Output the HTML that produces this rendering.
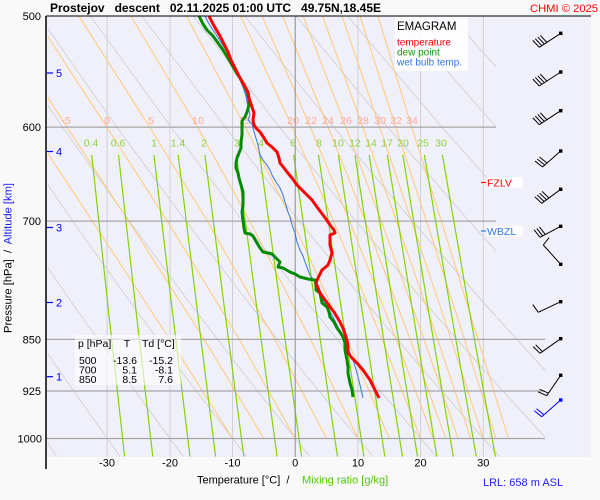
<!DOCTYPE html>
<html><head><meta charset="utf-8"><style>
html,body{margin:0;padding:0;background:#f9f9f9;}
svg{display:block;font-family:"Liberation Sans",Arial,sans-serif;}
</style></head><body>
<svg width="600" height="500" viewBox="0 0 600 500" xmlns="http://www.w3.org/2000/svg">
<rect x="0" y="0" width="600" height="500" fill="#f9f9f9"/>
<rect x="46" y="16" width="545" height="441" fill="#f0f0fa"/>
<defs><clipPath id="c"><polygon points="48,16 496,16 496,317 545,317 545,457 48,457"/></clipPath>
<clipPath id="cm"><polygon points="47,154 496,154 496,317 545,317 545,457 47,457"/></clipPath></defs>
<g clip-path="url(#c)" fill="none" stroke-width="1">
<g stroke="#d0d0d0">
<line x1="107.1" y1="16" x2="107.1" y2="457"/><line x1="170" y1="16" x2="170" y2="457"/><line x1="232.5" y1="16" x2="232.5" y2="457"/><line x1="357.9" y1="16" x2="357.9" y2="457"/><line x1="420.6" y1="16" x2="420.6" y2="457"/><line x1="483.3" y1="16" x2="483.3" y2="457"/>
</g>
<g stroke="#d4d4d4">
<polyline points="-45.9,302.5 1.1,374.3 56.8,456.6"/>
<polyline points="-40.6,221.1 12.9,302.5 61.9,374.3 120,456.6"/>
<polyline points="-45.8,127.1 16,221.1 71.7,302.5 122.7,374.3 183.3,456.6"/>
<polyline points="-64,16 8.5,127.1 72.7,221.1 130.6,302.5 183.6,374.3 246.5,456.6"/>
<polyline points="-12.5,16 62.6,127.1 129.3,221.1 189.4,302.5 244.4,374.3 309.7,456.6"/>
<polyline points="38.9,16 116.8,127.1 185.9,221.1 248.2,302.5 305.2,374.3 372.9,456.6"/>
<polyline points="90.4,16 171,127.1 242.5,221.1 307.1,302.5 366.1,374.3 436.2,456.6"/>
<polyline points="141.8,16 225.2,127.1 299.2,221.1 365.9,302.5 426.9,374.3 499.4,456.6"/>
<polyline points="193.2,16 279.4,127.1 355.8,221.1 424.7,302.5 487.8,374.3 562.7,456.6"/>
<polyline points="244.7,16 333.6,127.1 412.4,221.1 483.5,302.5 548.6,374.3"/>
<polyline points="296.1,16 387.7,127.1 469,221.1 542.4,302.5"/>
<polyline points="347.6,16 441.9,127.1 525.7,221.1"/>
<polyline points="399,16 496.1,127.1 582.3,221.1"/>
<polyline points="450.4,16 550.3,127.1"/>
<polyline points="501.9,16 604.5,127.1"/>
</g>
<g stroke="#ffc878">
<polyline points="232.5,438.5 169.8,339.4 92.4,221.1 62.6,175.9 30.6,127.1"/>
<polyline points="263.8,438.5 204.3,339.4 128.7,221.1 67,127.1 -5.1,16"/>
<polyline points="295.2,438.5 239.4,339.4 167.3,221.1 106.8,127.1 34.4,16"/>
<polyline points="326.6,438.5 274.8,339.4 207.4,221.1 149.7,127.1 78.9,16"/>
<polyline points="357.9,438.5 310.5,339.4 249.8,221.1 197.5,127.1 130.8,16"/>
<polyline points="389.3,438.5 347,339.4 292.5,221.1 245.5,127.1 186.5,16"/>
<polyline points="420.6,438.5 382.1,339.4 333.6,221.1 292.2,127.1 240.7,16"/>
<polyline points="433.1,438.5 396.2,339.4 349.6,221.1 310.4,127.1 262.1,16"/>
<polyline points="445.7,438.5 410.2,339.4 365.4,221.1 328.2,127.1 282.6,16"/>
<polyline points="458.2,438.5 424.1,339.4 381.2,221.1 345.9,127.1 303.1,16"/>
<polyline points="470.8,438.5 437.6,339.4 396.5,221.1 362.8,127.1 322.5,16"/>
<polyline points="483.3,438.5 451.1,339.4 411.6,221.1 379.7,127.1 342,16"/>
<polyline points="495.8,438.5 464.5,339.4 426.5,221.1 395.7,127.1 360,16"/>
<polyline points="508.4,438.5 478,339.4 441.4,221.1 411.7,127.1 378,16"/>
</g>
</g>
<g clip-path="url(#cm)" fill="none" stroke="#84d208" stroke-width="1.2">
<polyline points="91.7,154.9 107.6,302.5 124.6,456.6"/>
<polyline points="118.5,154.9 135.1,302.5 152.8,456.6"/>
<polyline points="153.9,154.9 171.3,302.5 190,456.6"/>
<polyline points="178.2,154.9 196.3,302.5 215.6,456.6"/>
<polyline points="204.9,154.9 223.7,302.5 243.8,456.6"/>
<polyline points="236.5,154.9 256.1,302.5 277.1,456.6"/>
<polyline points="259.7,154.9 279.9,302.5 301.6,456.6"/>
<polyline points="293.6,154.9 314.8,302.5 337.5,456.6"/>
<polyline points="318.5,154.9 340.4,302.5 363.9,456.6"/>
<polyline points="338.4,154.9 360.8,302.5 384.9,456.6"/>
<polyline points="354.9,154.9 377.8,302.5 402.5,456.6"/>
<polyline points="369.1,154.9 392.5,302.5 417.5,456.6"/>
<polyline points="387.3,154.9 411.2,302.5 436.9,456.6"/>
<polyline points="402.8,154.9 427.1,302.5 453.3,456.6"/>
<polyline points="424.4,154.9 449.4,302.5 476.3,456.6"/>
<polyline points="442.4,154.9 467.9,302.5 495.4,456.6"/>
</g>
<line x1="295.2" y1="16" x2="295.2" y2="457" stroke="#8c8c8c" stroke-width="1"/>
<g stroke="#a6a6a6" stroke-width="1.3">
<line x1="46" y1="127.1" x2="496" y2="127.1"/>
<line x1="46" y1="221.1" x2="496" y2="221.1"/>
<line x1="46" y1="339.4" x2="545" y2="339.4"/>
<line x1="46" y1="391" x2="545" y2="391"/>
<line x1="46" y1="438.5" x2="545" y2="438.5"/>
</g>
<g font-size="10.5" fill="#ffa892" text-anchor="middle">
<text x="66" y="124">-5</text><text x="107" y="124">0</text><text x="151" y="124">5</text><text x="198" y="124">10</text><text x="245" y="124">15</text>
<text x="293" y="124">20</text><text x="311" y="124">22</text><text x="328" y="124">24</text><text x="346" y="124">26</text><text x="363" y="124">28</text><text x="380" y="124">30</text><text x="396" y="124">32</text><text x="412" y="124">34</text>
</g>
<g font-size="10.5" fill="#8cd23c" text-anchor="middle">
<text x="91" y="146.5">0.4</text><text x="118" y="146.5">0.6</text><text x="154" y="146.5">1</text><text x="178" y="146.5">1.4</text><text x="204" y="146.5">2</text><text x="237" y="146.5">3</text><text x="261" y="146.5">4</text><text x="293" y="146.5">6</text><text x="319" y="146.5">8</text><text x="338" y="146.5">10</text><text x="355" y="146.5">12</text><text x="371" y="146.5">14</text><text x="387" y="146.5">17</text><text x="403" y="146.5">20</text><text x="423" y="146.5">25</text><text x="441" y="146.5">30</text>
</g>
<rect x="395" y="17" width="73" height="54" fill="#ffffff" fill-opacity="0.85"/>
<text x="397" y="30" font-size="11.5" fill="#000">EMAGRAM</text>
<text x="397" y="45.5" font-size="10" fill="#ff0000">temperature</text>
<text x="397" y="55.5" font-size="10" fill="#119911">dew point</text>
<text x="397" y="65.5" font-size="10" fill="#3377ee">wet bulb temp.</text>
<rect x="75" y="335" width="106" height="50" fill="#ffffff" fill-opacity="0.6"/>
<g font-size="10.5" fill="#000">
<text x="78" y="347">p [hPa]</text><text x="127" y="347" text-anchor="middle">T</text><text x="142" y="347">Td [°C]</text>
<text x="79" y="364">500</text><text x="137" y="364" text-anchor="end">-13.6</text><text x="173" y="364" text-anchor="end">-15.2</text>
<text x="79" y="373.5">700</text><text x="137" y="373.5" text-anchor="end">5.1</text><text x="173" y="373.5" text-anchor="end">-8.1</text>
<text x="79" y="383">850</text><text x="137" y="383" text-anchor="end">8.5</text><text x="173" y="383" text-anchor="end">7.6</text>
</g>
<polyline fill="none" stroke="#3377dd" stroke-width="1" points="205,16 209,24 213,30 217,36 222,44 227,52 232,62 237,72 240,80 243,87 246,96 247,102 249,110 250,115 248,120 252,124 253,128 255,135 258,145 260,155 263,160 267,165 270,170 272,175 276,182 280,188 283,195 285,202 288,212 290,217 292,225 295,233 297,242 300,250 303,256 305,262 308,270 310,275 315,282 319,290 323,300 328,308 333,317 338,327 343,337 347,345 350,353 354,363 357,373 360,385 363,398"/>
<polyline fill="none" stroke="#008a00" stroke-width="3" stroke-linejoin="round" points="199,16 203,24 207,30 213,36 218,43 223,50 228,58 232,65 236,72 240,78 244,85 247,92 249,100 249,105 247,112 245,117 242,121 242,128 242,135 241,142 241,148 239,153 237,158 236,163 236,168 238,173 239,178 241,185 243,192 243,198 243,205 242,212 243,220 244,228 245,233 250,234 253,236 257,243 260,248 263,252 268,253 272,254 276,258 280,262 278,267 283,268 290,272 295,274 300,277 308,279 315,280 316,285 316,290 320,293 321,298 322,303 327,307 329,312 330,317 334,322 337,328 340,332 343,337 345,343 345,350 347,360 348,367 348,373 350,383 352,390 353,397"/>
<polyline fill="none" stroke="#ff0000" stroke-width="3" stroke-linejoin="round" points="209,16 213,24 217,31 220,36 224,44 228,52 231,60 235,68 240,78 244,85 248,92 249,98 251,104 254,113 253,120 254,125 256,128 260,132 264,138 267,143 272,147 277,152 279,158 280,163 284,168 287,172 292,178 297,185 302,190 307,195 312,200 317,207 320,211 323,215 326,219 330,225 334,230 335,233 330,235 330,240 330,245 332,253 330,260 328,265 322,270 318,278 316,283 318,288 320,293 325,300 328,304 330,307 334,312 337,317 340,322 343,328 345,334 347,340 348,347 348,353 352,358 357,363 363,370 370,380 375,390 379,398"/>
<rect x="487" y="177" width="36" height="11" fill="#ffffff" fill-opacity="0.85"/>
<line x1="481" y1="182.5" x2="486" y2="182.5" stroke="#ff0000" stroke-width="1.2"/>
<text x="487" y="186.5" font-size="10.5" fill="#ff0000">FZLV</text>
<rect x="487" y="225.5" width="36" height="11" fill="#ffffff" fill-opacity="0.85"/>
<line x1="481" y1="231" x2="486" y2="231" stroke="#3377ee" stroke-width="1.2"/>
<text x="487" y="235" font-size="10.5" fill="#3377ee">WBZL</text>
<g fill="none" stroke="#000" stroke-width="1">
<path d="M560.7,33.3L539.3,47.3M539.3,47.3L532.8,40.37M541.81,45.66L535.31,38.73M544.32,44.02L537.82,37.09M546.83,42.37L540.33,35.44"/>
<path d="M560.7,72L539.3,86M539.3,86L532.8,79.07M541.81,84.36L535.31,77.43M544.32,82.72L537.82,75.79M546.83,81.07L540.33,74.14"/>
<path d="M560.7,110.7L539.3,124.7M539.3,124.7L532.8,117.77M541.81,123.06L535.31,116.13M544.32,121.42L537.82,114.49M546.83,119.77L540.33,112.84"/>
<path d="M560.7,151L542.5,167M542.5,167L535.08,161.06M544.75,165.02L537.33,159.08M547,163.04L539.58,157.1"/>
<path d="M560.7,189.3L541.7,203.3M541.7,203.3L534.82,196.75M544.12,201.52L537.24,194.97M546.53,199.74L539.65,193.19M548.95,197.96L542.07,191.41"/>
<path d="M560.7,226.3L540,237.3M540,237.3L534.15,229.81M542.65,235.89L536.8,228.4M545.3,234.48L539.45,226.99"/>
<path d="M560.7,264.3L543.3,245M543.3,245L549.14,237.51"/>
<path d="M560.7,301.7L538.3,312.3M538.3,312.3L532.81,304.55"/>
<path d="M560.7,338.7L540,353.3M540,353.3L533.26,346.61M542.45,351.57L535.71,344.88"/>
<path d="M560.7,375.3L546.7,395.7M546.7,395.7L538.05,391.77M548.4,393.23L539.75,389.3"/>
</g>
<g fill="#000">
<rect x="559" y="31.6" width="3.4" height="3.4"/><rect x="559" y="70.3" width="3.4" height="3.4"/><rect x="559" y="109" width="3.4" height="3.4"/><rect x="559" y="149.3" width="3.4" height="3.4"/><rect x="559" y="187.6" width="3.4" height="3.4"/><rect x="559" y="224.6" width="3.4" height="3.4"/><rect x="559" y="262.6" width="3.4" height="3.4"/><rect x="559" y="300" width="3.4" height="3.4"/><rect x="559" y="337" width="3.4" height="3.4"/><rect x="559" y="373.6" width="3.4" height="3.4"/>
</g>
<path d="M560.7,400L541.7,416.7M541.7,416.7L534.29,410.76M543.95,414.72L536.54,408.78" fill="none" stroke="#0000ff" stroke-width="1"/>
<rect x="559" y="398.3" width="3.4" height="3.4" fill="#0000ff"/>
<line x1="46" y1="16" x2="591" y2="16" stroke="#000" stroke-width="1"/>
<line x1="46" y1="16" x2="46" y2="469" stroke="#000" stroke-width="1.5"/>
<g font-size="11" fill="#000" text-anchor="end">
<text x="41" y="20">500</text><text x="41" y="131">600</text><text x="41" y="225">700</text><text x="41" y="343.5">850</text><text x="41" y="395">925</text><text x="42" y="442.5">1000</text>
</g>
<g stroke="#0000ee" stroke-width="1.2">
<line x1="47" y1="73" x2="53" y2="73"/><line x1="47" y1="151.5" x2="53" y2="151.5"/><line x1="47" y1="227.5" x2="53" y2="227.5"/><line x1="47" y1="302.5" x2="53" y2="302.5"/><line x1="47" y1="376.7" x2="53" y2="376.7"/>
</g>
<g font-size="11" fill="#0000ee">
<text x="56" y="77">5</text><text x="56" y="155.5">4</text><text x="56" y="231.5">3</text><text x="56" y="306.5">2</text><text x="56" y="380.7">1</text>
</g>
<g font-size="11" fill="#000" text-anchor="middle">
<text x="107" y="466.5">-30</text><text x="170" y="466.5">-20</text><text x="232.5" y="466.5">-10</text><text x="295.2" y="466.5">0</text><text x="358" y="466.5">10</text><text x="420.5" y="466.5">20</text><text x="483.3" y="466.5">30</text>
</g>
<text x="197" y="483.5" font-size="11" fill="#000" xml:space="preserve">Temperature [°C]  /  </text>
<text x="302" y="483.5" font-size="11" fill="#4ccc00">Mixing ratio [g/kg]</text>
<text x="483" y="486" font-size="11" fill="#2222ff">LRL: 658 m ASL</text>
<text transform="translate(11.5,333) rotate(-90)" font-size="11" textLength="150" lengthAdjust="spacingAndGlyphs" xml:space="preserve"><tspan fill="#000">Pressure [hPa]  /  </tspan><tspan fill="#1a1aff">Altitude [km]</tspan></text>
<text x="50" y="12" font-size="12" font-weight="bold" fill="#000" textLength="331" lengthAdjust="spacing" xml:space="preserve">Prostejov   descent   02.11.2025 01:00 UTC   49.75N,18.45E</text>
<text x="530" y="12" font-size="11" fill="#ff0000" textLength="68" lengthAdjust="spacingAndGlyphs">CHMI © 2025</text>
</svg>
</body></html>
